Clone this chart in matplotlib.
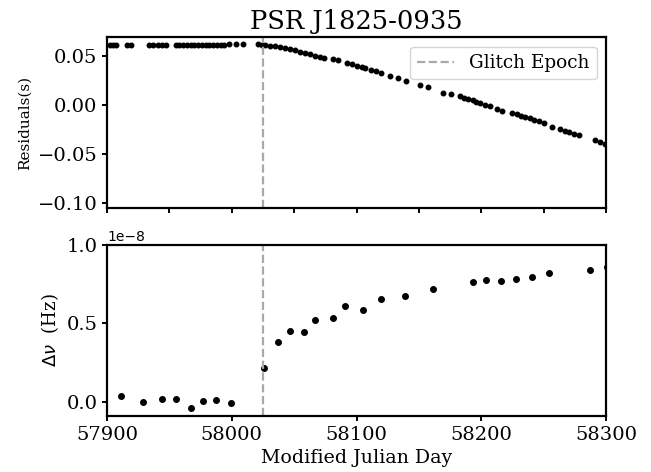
import matplotlib
matplotlib.use("Agg")
import matplotlib.pyplot as plt

# glitch epoch (MJD)
glitch_mjd = 58025

# timing residuals, pre-glitch
pre_mjd = [57902, 57905, 57907, 57916, 57919, 57934, 57937, 57941, 57944, 57947,
           57955, 57958, 57961, 57964, 57967, 57970, 57973, 57976, 57979, 57982,
           57985, 57988, 57991, 57994, 57998, 58003, 58009, 58021, 58024]
pre_res = [0.0618, 0.0618, 0.0618, 0.0617, 0.0617, 0.0617, 0.0617, 0.0617, 0.0617, 0.0617,
           0.0617, 0.0617, 0.0617, 0.0618, 0.0618, 0.0618, 0.0618, 0.0618, 0.0618, 0.0618,
           0.0618, 0.0618, 0.0618, 0.0618, 0.0619, 0.0619, 0.0622, 0.0619, 0.0617]

# timing residuals, post-glitch
post_mjd = [58027, 58031, 58035, 58039, 58043, 58047, 58051, 58055, 58059, 58063,
            58067, 58071, 58074, 58081, 58085, 58092, 58096, 58100, 58104, 58107,
            58112, 58116, 58120, 58127, 58133, 58140, 58151, 58157, 58169, 58176,
            58183, 58186, 58189, 58193, 58196, 58199, 58203, 58207, 58213, 58217,
            58225, 58229, 58232, 58235, 58239, 58242, 58246, 58250, 58257, 58263,
            58267, 58270, 58274, 58278, 58291, 58295, 58299]
post_res = [0.0612, 0.0607, 0.0602, 0.0592, 0.0582, 0.0571, 0.0561, 0.0546, 0.0536, 0.0520,
            0.0505, 0.0490, 0.0480, 0.0469, 0.0459, 0.0432, 0.0418, 0.0403, 0.0388, 0.0374,
            0.0360, 0.0347, 0.0330, 0.0299, 0.0272, 0.0248, 0.0204, 0.0181, 0.0126, 0.0112,
            0.0092, 0.0077, 0.0061, 0.0048, 0.0033, 0.0020, 0.0005, -0.0010, -0.0044, -0.0064,
            -0.0082, -0.0095, -0.0108, -0.0122, -0.0136, -0.0149, -0.0163, -0.0181, -0.0228, -0.0248,
            -0.0263, -0.0279, -0.0294, -0.0309, -0.0357, -0.0374, -0.0398]

# frequency offset (x1e-8 Hz)
dnu_mjd = [57911, 57929, 57944, 57955, 57967, 57977, 57987, 57999,
           58026, 58037, 58047, 58058, 58067, 58081, 58091, 58105, 58120,
           58139, 58161, 58193, 58204, 58216, 58228, 58241, 58254, 58287, 58301]
dnu = [0.038, -0.004, 0.015, 0.015, -0.042, 0.004, 0.013, -0.008,
       0.217, 0.379, 0.449, 0.443, 0.521, 0.534, 0.611, 0.585, 0.657,
       0.675, 0.719, 0.764, 0.777, 0.770, 0.781, 0.794, 0.821, 0.840, 0.858]

plt.rcParams['font.family'] = 'DejaVu Serif'
plt.rcParams['axes.linewidth'] = 1.6
plt.rcParams['xtick.major.width'] = 1.4
plt.rcParams['ytick.major.width'] = 1.4

fig = plt.figure(figsize=(6.51, 4.72), dpi=100)
ax1 = fig.add_axes([0.1644, 0.5593, 0.7665, 0.3613])
ax2 = fig.add_axes([0.1644, 0.1186, 0.7665, 0.3623])

ax1.plot(pre_mjd + post_mjd, pre_res + post_res, '.', color='k', ms=6.5)
ax1.axvline(glitch_mjd, color='darkgray', ls='--', lw=1.6, label='Glitch Epoch')
ax1.set_xlim(57900, 58300)
ax1.set_ylim(-0.105, 0.069)
ax1.set_xticks(range(57900, 58301, 50))
ax1.set_xticklabels([])
ax1.set_yticks([-0.10, -0.05, 0.00, 0.05])
ax1.set_ylabel('Residuals(s)', fontsize=11)
ax1.set_title('PSR J1825-0935', fontsize=18.5)
ax1.legend(loc='upper right', fontsize=13.3)
ax1.tick_params(labelsize=14)

ax2.plot(dnu_mjd, [v * 1e-8 for v in dnu], '.', color='k', ms=8)
ax2.axvline(glitch_mjd, color='darkgray', ls='--', lw=1.6)
ax2.set_xlim(57900, 58300)
ax2.set_ylim(-0.091e-8, 1.0e-8)
ax2.set_xticks(range(57900, 58301, 100))
ax2.set_yticks([0, 0.5e-8, 1.0e-8])
ax2.set_xlabel('Modified Julian Day', fontsize=13.7)
ax2.set_ylabel(r'$\Delta\nu$  (Hz)', fontsize=13)
ax2.tick_params(labelsize=14)
ax2.yaxis.get_offset_text().set_fontfamily('DejaVu Sans')
ax2.yaxis.get_offset_text().set_fontsize(10)

fig.savefig('out.png', dpi=100)
